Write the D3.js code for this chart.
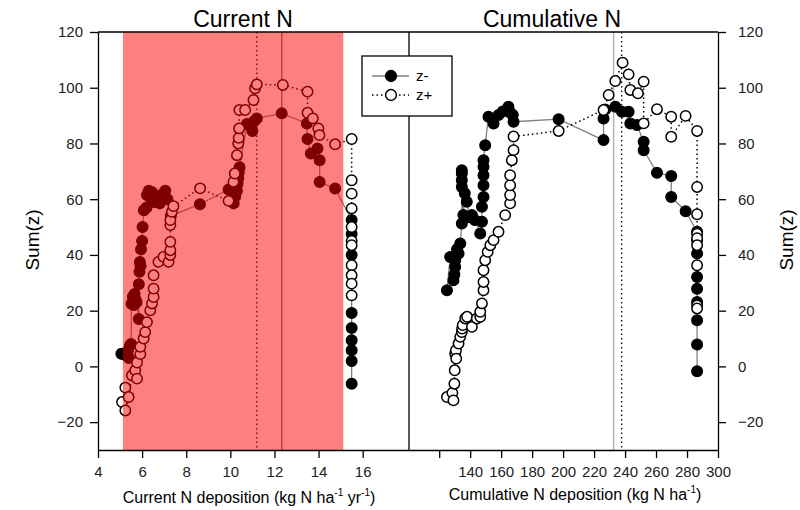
<!DOCTYPE html>
<html>
<head>
<meta charset="utf-8">
<script src="https://cdn.jsdelivr.net/npm/d3@7"></script>
<style>
  body { margin: 0; background: #fff; }
  svg { display: block; font-family: "Liberation Sans", Arial, sans-serif; }
</style>
</head>
<body>
<div id="chart"></div>
<script>
// z- / z+ sums, [deposition, sum(z)]
var currentNeg = [
  [5.06, 4.5], [5.15, 4.5], [5.25, 4.0], [5.35, 5.5], [5.4, 3.0], [5.45, 7.5], [5.5, 8.0],
  [5.52, 22.5], [5.58, 25.0], [5.62, 22.0], [5.66, 26.0], [5.7, 24.0], [5.75, 23.0],
  [5.85, 17.0], [5.85, 29.5], [5.88, 34.0], [5.9, 37.5], [5.93, 36.0], [5.95, 42.0],
  [6.0, 45.0], [6.02, 50.0], [6.08, 56.0], [6.2, 57.0], [6.22, 61.5], [6.3, 63.0],
  [6.38, 60.5], [6.45, 62.5], [6.55, 59.0], [6.65, 61.0], [6.8, 58.5], [6.95, 62.0],
  [7.05, 63.0], [7.15, 60.0], [7.3, 54.0], [8.62, 58.2], [9.92, 63.5], [10.05, 59.6],
  [10.15, 58.5], [10.22, 61.0], [10.3, 63.0], [10.33, 65.5], [10.36, 67.5], [10.38, 69.5],
  [10.42, 71.5], [10.75, 87.0], [11.0, 84.5], [11.08, 88.0], [11.2, 89.0], [12.33, 90.8],
  [13.47, 87.2], [13.5, 81.6], [13.65, 76.4], [13.95, 78.2], [14.05, 74.0], [14.05, 66.2],
  [14.75, 63.8], [15.5, 52.5], [15.5, 47.5], [15.5, 40.0], [15.5, 19.2], [15.5, 13.8],
  [15.5, 9.4], [15.5, 5.8], [15.5, 1.9], [15.5, -6.2]
];
var currentPos = [
  [5.09, -12.8], [5.24, -7.6], [5.24, -15.8], [5.39, -11.0], [5.54, -3.2], [5.69, -1.4],
  [5.77, -4.4], [5.77, 1.4], [5.92, 4.4], [5.92, 7.0], [6.07, 10.0], [6.14, 12.3],
  [6.22, 15.9], [6.37, 20.1], [6.45, 22.6], [6.52, 24.9], [6.52, 27.9], [6.52, 32.7],
  [6.74, 37.5], [6.97, 39.3], [7.2, 37.5], [7.28, 40.0], [7.28, 41.7], [7.28, 44.7],
  [7.28, 50.7], [7.28, 52.5], [7.35, 55.5], [7.42, 57.5], [8.63, 63.9], [9.92, 59.4],
  [10.14, 66.2], [10.2, 69.2], [10.3, 75.8], [10.36, 80.0], [10.38, 82.0], [10.4, 85.4],
  [10.41, 92.0], [10.67, 92.0], [11.05, 95.6], [11.12, 99.8], [11.2, 101.2], [12.38, 101.0],
  [13.5, 98.6], [13.5, 91.0], [13.74, 89.0], [13.99, 85.4], [14.04, 83.0], [14.75, 79.7],
  [15.5, 81.6], [15.5, 66.8], [15.5, 62.0], [15.5, 56.7], [15.5, 50.0], [15.5, 45.0],
  [15.5, 43.5], [15.5, 36.3], [15.5, 32.7], [15.5, 29.7], [15.5, 25.5]
];
var cumulNeg = [
  [125.0, 27.3], [127.1, 39.3], [129.2, 30.9], [129.8, 33.0], [130.3, 35.7], [130.3, 38.1],
  [131.5, 42.0], [132.5, 40.5], [133.6, 44.1], [134.6, 51.3], [134.6, 64.4], [134.6, 66.8],
  [134.6, 69.2], [134.6, 70.4], [135.6, 54.3], [136.5, 62.1], [137.8, 59.1], [139.5, 53.5],
  [141.1, 54.3], [143.0, 52.5], [146.5, 47.7], [147.6, 51.9], [147.6, 57.3], [148.6, 60.8],
  [148.6, 65.0], [148.6, 68.6], [148.6, 71.6], [148.6, 74.0], [149.7, 79.4], [151.8, 89.6],
  [155.1, 87.2], [158.3, 90.2], [161.0, 91.5], [164.7, 93.2], [166.0, 91.0], [167.5, 90.2],
  [168.0, 87.8], [197.1, 88.7], [226.1, 81.2], [226.1, 89.0], [227.2, 92.2], [233.7, 93.2],
  [238.0, 91.4], [242.3, 91.4], [243.4, 87.2], [247.7, 86.6], [252.0, 80.6], [252.0, 77.6],
  [260.6, 69.5], [269.8, 68.3], [269.8, 60.8], [279.1, 55.7], [286.5, 48.3], [286.5, 45.3],
  [286.5, 40.5], [286.5, 32.1], [286.5, 27.9], [286.5, 23.1], [286.5, 16.6], [286.5, 7.9],
  [286.5, -1.7]
];
var cumulPos = [
  [125.0, -11.0], [128.5, -9.5], [129.2, -12.2], [129.8, -6.2], [130.0, -1.4], [130.3, 4.6],
  [130.8, 5.8], [131.0, 2.8], [132.5, 8.2], [133.6, 10.6], [134.6, 12.3], [134.8, 13.6],
  [135.2, 14.8], [136.8, 17.2], [138.0, 17.8], [141.1, 14.2], [144.3, 17.2], [146.5, 17.8],
  [146.5, 19.6], [147.6, 22.6], [148.6, 27.3], [148.6, 30.3], [148.6, 34.5], [149.7, 38.1],
  [151.3, 41.1], [153.0, 43.5], [155.1, 45.3], [158.3, 48.3], [162.6, 54.3], [165.8, 58.5],
  [165.8, 61.5], [165.8, 65.0], [165.8, 68.6], [166.9, 74.0], [168.0, 77.6], [168.0, 82.5],
  [197.1, 84.5], [226.1, 92.0], [229.4, 97.4], [233.7, 102.4], [238.4, 109.0], [242.3, 104.8],
  [243.4, 99.2], [248.3, 98.0], [252.0, 102.2], [252.0, 87.2], [260.6, 92.3], [269.8, 89.6],
  [269.8, 82.4], [279.1, 89.9], [286.5, 84.5], [286.5, 64.4], [286.5, 54.6], [286.5, 47.6],
  [286.5, 46.0], [286.5, 43.5], [286.5, 36.3], [286.5, 21.9], [286.5, 20.8]
];

// change points and the shaded range on the current-N panel
var currentBand = [5.13, 15.12];
var currentNegCP = 12.33, currentPosCP = 11.2;
var cumulNegCP = 232.6, cumulPosCP = 237.8;

var yTicks = [-20, 0, 20, 40, 60, 80, 100, 120];
var curTicks = [4, 6, 8, 10, 12, 14, 16];
var cumTicks = [120, 140, 160, 180, 200, 220, 240, 260, 280, 300];

var width = 800, height = 510;
// (not "top": that name is taken by window.top)
var plotTop = 32, plotBottom = 450, plotLeft = 98, plotMid = 409, plotRight = 718;

var svg = d3.select("#chart").append("svg")
  .attr("width", width)
  .attr("height", height);

var y = d3.scaleLinear().domain([-30, 120]).range([plotBottom, plotTop]);
var xCur = d3.scaleLinear().domain([4, 18.1]).range([plotLeft, plotMid]);
var xCum = d3.scaleLinear().domain([100.5, 300]).range([plotMid, plotRight]);

function panel(xs, neg, pos, negCP, posCP, cpGrey) {
  var g = svg.append("g");
  g.append("line")
    .attr("x1", xs(posCP)).attr("x2", xs(posCP))
    .attr("y1", plotTop).attr("y2", plotBottom)
    .attr("stroke", "#000").attr("stroke-width", 1.3)
    .attr("stroke-dasharray", "1.5,3");
  g.append("line")
    .attr("x1", xs(negCP)).attr("x2", xs(negCP))
    .attr("y1", plotTop).attr("y2", plotBottom)
    .attr("stroke", cpGrey).attr("stroke-width", 1.5);

  var line = d3.line()
    .x(function(d) { return xs(d[0]); })
    .y(function(d) { return y(d[1]); });

  g.append("path").datum(neg)
    .attr("d", line).attr("fill", "none")
    .attr("stroke", "#808080").attr("stroke-width", 1.3);
  g.append("path").datum(pos)
    .attr("d", line).attr("fill", "none")
    .attr("stroke", "#000").attr("stroke-width", 1.5)
    .attr("stroke-dasharray", "1.5,3");

  g.selectAll(".neg").data(neg).enter().append("circle")
    .attr("class", "neg")
    .attr("cx", function(d) { return xs(d[0]); })
    .attr("cy", function(d) { return y(d[1]); })
    .attr("r", 5.4)
    .attr("fill", "#000").attr("stroke", "#000").attr("stroke-width", 1.2);
  g.selectAll(".pos").data(pos).enter().append("circle")
    .attr("class", "pos")
    .attr("cx", function(d) { return xs(d[0]); })
    .attr("cy", function(d) { return y(d[1]); })
    .attr("r", 5.2)
    .attr("fill", "#fff").attr("stroke", "#000").attr("stroke-width", 1.5);
  return g;
}

panel(xCur, currentNeg, currentPos, currentNegCP, currentPosCP, "#808080");
panel(xCum, cumulNeg, cumulPos, cumulNegCP, cumulPosCP, "#b4b4b4");

// red shading drawn over the points, like the original
svg.append("rect")
  .attr("x", xCur(currentBand[0]))
  .attr("y", plotTop)
  .attr("width", xCur(currentBand[1]) - xCur(currentBand[0]))
  .attr("height", plotBottom - plotTop)
  .attr("fill", "#ff0000")
  .attr("opacity", 0.5);

// axes
function styleAxis(g) {
  g.selectAll("text").style("font-size", "15px").attr("fill", "#222");
  g.selectAll("line").attr("stroke", "#000").attr("stroke-width", 1.3);
  g.select(".domain").attr("stroke", "#000").attr("stroke-width", 1.3);
}

svg.append("g")
  .attr("transform", "translate(" + plotLeft + ",0)")
  .call(d3.axisLeft(y).tickValues(yTicks).tickSize(8).tickSizeOuter(0).tickPadding(7))
  .call(styleAxis);

svg.append("g")
  .attr("transform", "translate(" + plotRight + ",0)")
  .call(d3.axisRight(y).tickValues(yTicks).tickSize(8).tickSizeOuter(0).tickPadding(12))
  .call(styleAxis);

svg.append("g")
  .attr("transform", "translate(0," + plotBottom + ")")
  .call(d3.axisBottom(xCur).tickValues(curTicks).tickSize(8).tickSizeOuter(0).tickPadding(8))
  .call(styleAxis);

svg.append("g")
  .attr("transform", "translate(0," + plotBottom + ")")
  .call(d3.axisBottom(xCum).tickValues(cumTicks).tickSize(8).tickSizeOuter(0).tickPadding(8)
    .tickFormat(function(d) { return d === 120 ? "" : d; }))
  .call(styleAxis);

// frame: top edge and the divider between panels
svg.append("line")
  .attr("x1", plotLeft).attr("x2", plotRight).attr("y1", plotTop).attr("y2", plotTop)
  .attr("stroke", "#000").attr("stroke-width", 1.3);
svg.append("line")
  .attr("x1", plotMid).attr("x2", plotMid).attr("y1", plotTop).attr("y2", plotBottom)
  .attr("stroke", "#000").attr("stroke-width", 1.3);

// titles
svg.append("text").attr("x", 243).attr("y", 27)
  .attr("text-anchor", "middle").style("font-size", "23px").text("Current N");
svg.append("text").attr("x", 552).attr("y", 27)
  .attr("text-anchor", "middle").style("font-size", "23px").text("Cumulative N");

svg.append("text")
  .attr("transform", "translate(39,240) rotate(-90)")
  .attr("text-anchor", "middle").style("font-size", "19px").text("Sum(z)");
svg.append("text")
  .attr("transform", "translate(793,240) rotate(-90)")
  .attr("text-anchor", "middle").style("font-size", "19px").text("Sum(z)");

var xl1 = svg.append("text").attr("x", 249).attr("y", 503)
  .attr("text-anchor", "middle").style("font-size", "16px");
xl1.append("tspan").text("Current N deposition (kg N ha");
xl1.append("tspan").attr("dy", -7).style("font-size", "10px").text("-1");
xl1.append("tspan").attr("dy", 7).text(" yr");
xl1.append("tspan").attr("dy", -7).style("font-size", "10px").text("-1");
xl1.append("tspan").attr("dy", 7).text(")");

var xl2 = svg.append("text").attr("x", 575).attr("y", 500)
  .attr("text-anchor", "middle").style("font-size", "16px");
xl2.append("tspan").text("Cumulative N deposition (kg N ha");
xl2.append("tspan").attr("dy", -7).style("font-size", "10px").text("-1");
xl2.append("tspan").attr("dy", 7).text(")");

// legend
var legend = svg.append("g");
legend.append("rect")
  .attr("x", 362).attr("y", 56).attr("width", 90).attr("height", 60)
  .attr("fill", "#fff").attr("stroke", "#000").attr("stroke-width", 1.3);
var items = [
  { label: "z-", yy: 76, fill: "#000", dash: null, stroke: "#808080" },
  { label: "z+", yy: 95, fill: "#fff", dash: "1.5,3", stroke: "#000" }
];
items.forEach(function(it) {
  legend.append("line")
    .attr("x1", 372).attr("x2", 409).attr("y1", it.yy).attr("y2", it.yy)
    .attr("stroke", it.stroke).attr("stroke-width", 1.4)
    .attr("stroke-dasharray", it.dash);
  legend.append("circle")
    .attr("cx", 391).attr("cy", it.yy).attr("r", 5.4)
    .attr("fill", it.fill).attr("stroke", "#000").attr("stroke-width", 1.5);
  legend.append("text")
    .attr("x", 416).attr("y", it.yy + 5)
    .style("font-size", "15px").text(it.label);
});
</script>
</body>
</html>
